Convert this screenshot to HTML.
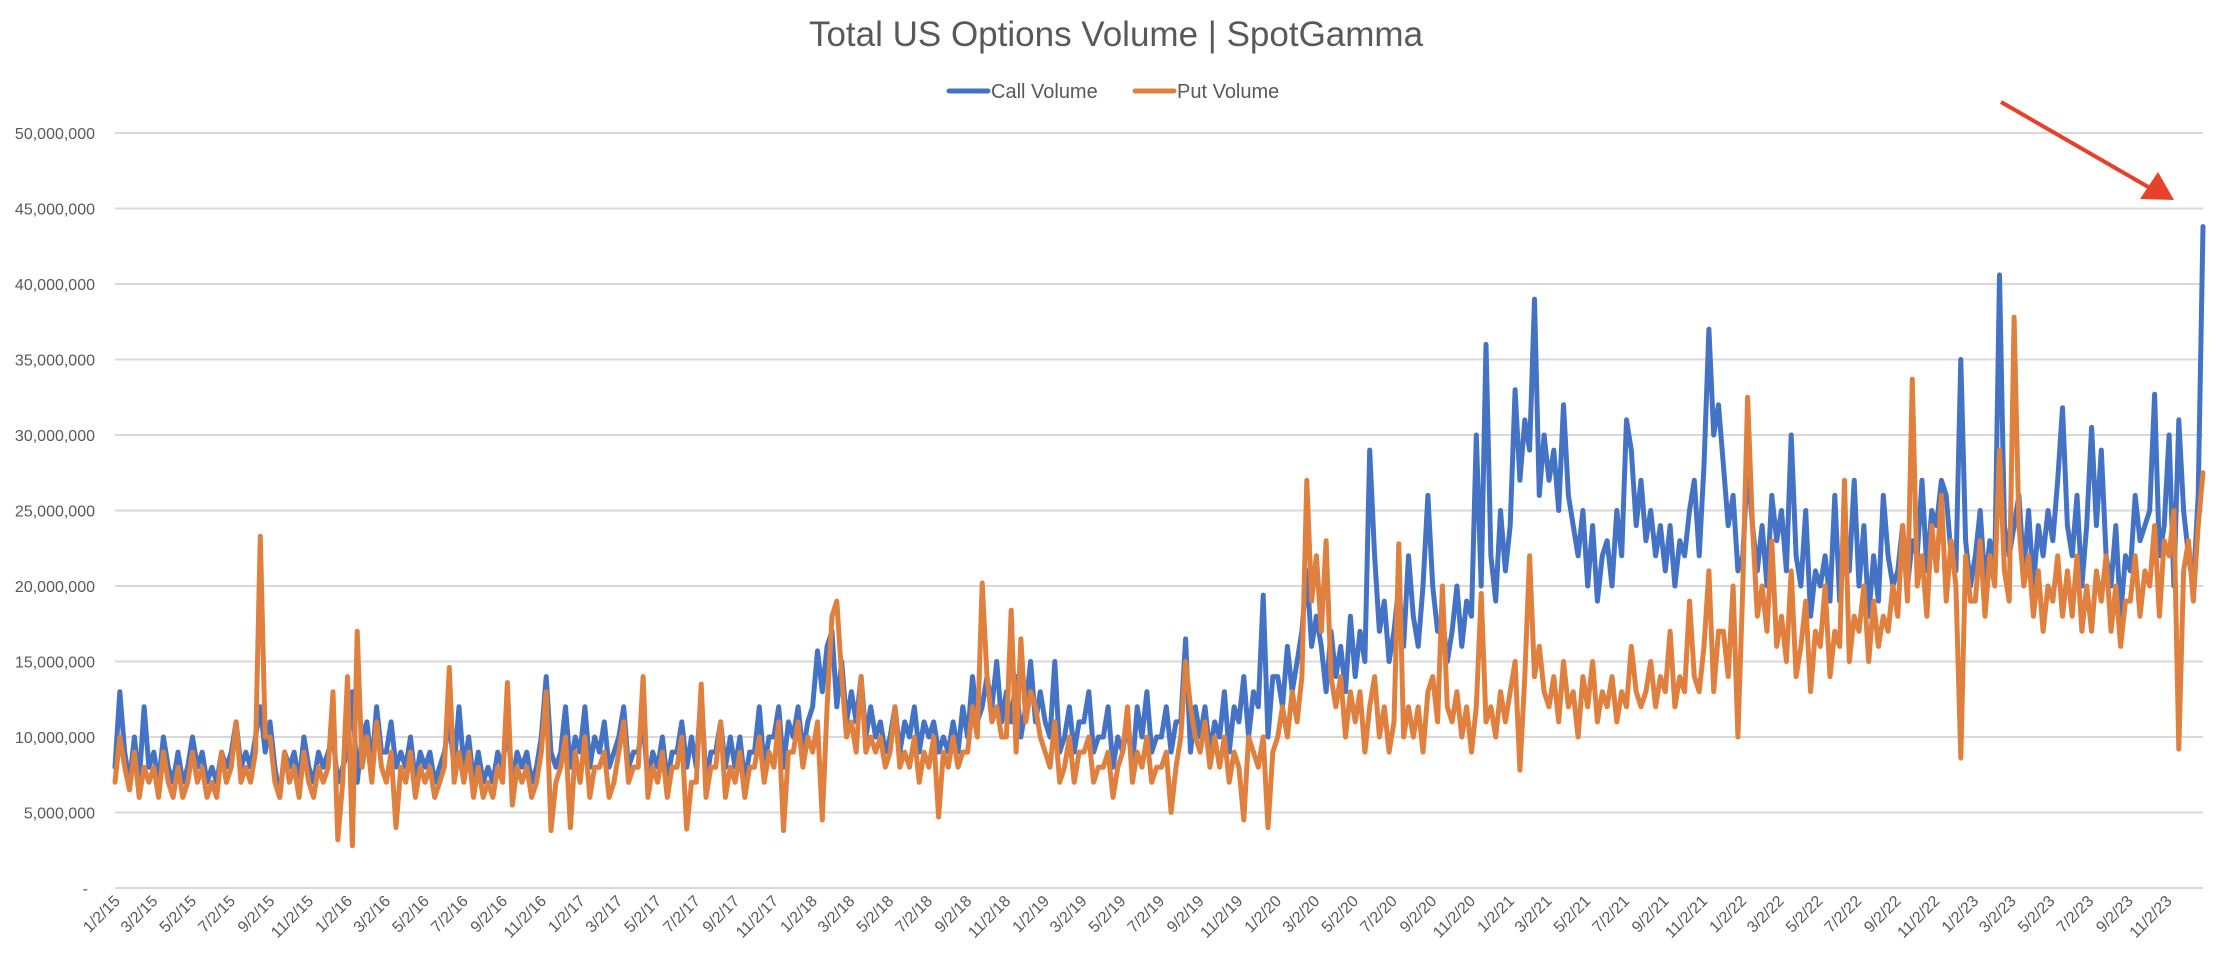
<!DOCTYPE html>
<html><head><meta charset="utf-8">
<style>
html,body{margin:0;padding:0;background:#fff;}
svg{display:block;font-family:"Liberation Sans",sans-serif;}
</style></head>
<body>
<svg id="chart" width="2222" height="962" viewBox="0 0 2222 962" xmlns="http://www.w3.org/2000/svg">
<text x="1116" y="46" text-anchor="middle" font-size="35" fill="#595959">Total US Options Volume | SpotGamma</text>
<g>
<g>
<line x1="949" y1="91" x2="988" y2="91" stroke="#4472C4" stroke-width="5" stroke-linecap="round"/>
<text x="991" y="98" font-size="20" fill="#595959">Call Volume</text></g>
<g>
<line x1="1135" y1="91" x2="1174" y2="91" stroke="#E0803F" stroke-width="5" stroke-linecap="round"/>
<text x="1177" y="98" font-size="20" fill="#595959">Put Volume</text></g>
</g>
<g id="grid"></g>
<g id="yaxis"></g>
<g id="xaxis"></g>
<g id="series"></g>
<g>
<line x1="2001" y1="102" x2="2150" y2="188" stroke="#E8412A" stroke-width="4"/>
<polygon points="2174,200 2140,199 2158,172" fill="#E8412A"/>
</g>
</svg>
<script>
const yTicks = [0,5,10,15,20,25,30,35,40,45,50];
const yTickLabels = ["-","5,000,000","10,000,000","15,000,000","20,000,000","25,000,000","30,000,000","35,000,000","40,000,000","45,000,000","50,000,000"];
const xTickLabels = (function(){const a=[];for(let y=15;y<=23;y++){for(const m of [1,3,5,7,9,11]){a.push(m+"/2/"+y);}}return a;})();
// values in millions, ~4 samples per month, Jan 2015 - Dec 2023
const callVolume = [
8,13,9,7, 10,7,12,8, 9,7,10,8, 7,9,7,8, 10,8,9,7, 8,7,9,8, 9,11,8,9, 8,10,12,9, 11,8,6,9, 8,9,7,10, 8,7,9,8, 9,10,7,8,
9,13,7,10, 11,8,12,9, 9,11,8,9, 8,10,7,9, 8,9,7,8, 9,11,8,12, 8,10,7,9, 7,8,7,9, 8,11,7,9, 8,9,7,8, 10,14,9,8, 9,12,8,10,
9,12,8,10, 9,11,8,9, 10,12,8,9, 9,11,7,9, 8,10,7,9, 9,11,8,10, 8,13,7,9, 9,11,8,10, 8,10,7,9, 9,12,8,10, 10,12,8,11, 10,12,9,11,
12,15.7,13,16, 17,12,15,11, 13,11,14,10, 12,10,11,9, 10,12,9,11, 10,12,9,11, 10,11,9,10, 9,11,9,12, 10,14,11,12, 14,12,15,11, 13,11,14,10, 12,15,11,13,
11,10,15,9, 10,12,9,11, 11,13,9,10, 10,12,8,10, 9,11,8,12, 10,13,9,10, 10,12,9,11, 11,16.5,9,12, 10,12,9,11, 10,13,9,12, 11,14,10,13, 12,19.4,10,14,
14,12,16,13, 15,17,21,16, 18,16,13,17, 14,16,13,18, 14,17,15,29, 22,17,19,15, 17,20,16,22, 18,16,20,26, 20,17,18,15, 17,20,16,19, 18,30,20,36, 22,19,25,21,
24,33,27,31, 29,39,26,30, 27,29,25,32, 26,24,22,25, 20,24,19,22, 23,20,25,22, 31,29,24,27, 23,25,22,24, 21,24,20,23, 22,25,27,22, 28,37,30,32, 28,24,26,21,
22,28,24,21, 24,20,26,23, 25,21,30,22, 20,25,18,21, 20,22,19,26, 19,23,21,27, 20,24,18,22, 19,26,22,20, 21,24,20,23, 22,27,21,25, 24,27,26,22, 21,35,23,20,
22,25,20,23, 21,40.6,24,22, 24,26,21,25, 20,24,22,25, 23,27,31.8,24, 22,26,20,24, 30.5,24,29,22, 20,24,18,22, 21,26,23,24, 25,32.7,22,24, 30,20,31,25, 22,20,26,43.8
];
const putVolume = [
7,10,8,6.5, 9,6,8,7, 8,6,9,7, 6,8,6,7, 9,7,8,6, 7,6,9,7, 8,11,7,8, 7,9,23.3,10, 10,7,6,9, 7,8,6,9, 7,6,8,7, 8,13,3.2,7,
14,2.8,17,8, 10,7,11,8, 7,9,4,8, 7,9,6,8, 7,8,6,7, 8,14.6,7,9, 7,9,6,8, 6,7,6,8, 7,13.6,5.5,8, 7,8,6,7, 9,13,3.8,7, 8,10,4,9,
7,10,6,8, 8,9,6,7, 9,11,7,8, 8,14,6,8, 7,9,6,8, 8,10,3.9,7, 7,13.5,6,8, 8,11,6,8, 7,9,6,8, 8,10,7,9, 8,11,3.8,9, 9,11,8,10,
9,11,4.5,12, 18,19,14,10, 11,9,14,9, 10,9,10,8, 9,12,8,9, 8,10,7,9, 8,10,4.7,9, 8,10,8,9, 9,12,10,20.2, 14,11,12,10, 10,18.4,9,16.5, 11,13,12,10,
9,8,11,7, 8,10,7,9, 9,10,7,8, 8,9,6,8, 9,12,7,9, 8,10,7,8, 8,9,5,8, 10,15,12,10, 9,11,8,10, 8,10,7,9, 8,4.5,10,9, 8,10,4,9,
10,12,10,13, 11,14,27,19, 22,17,23,14, 12,14,10,13, 11,13,9,12, 14,10,12,9, 11,22.8,10,12, 10,12,9,13, 14,11,20,12, 11,13,10,12, 9,12,19.5,11, 12,10,13,11,
13,15,7.8,14, 22,14,16,13, 12,14,11,15, 12,13,10,14, 12,15,11,13, 12,14,11,13, 12,16,13,12, 13,15,12,14, 13,17,12,14, 13,19,14,13, 16,21,13,17, 17,14,20,10,
20,32.5,24,18, 20,17,23,16, 18,15,21,14, 16,19,13,17, 16,20,14,17, 16,27,15,18, 17,20,15,19, 16,18,17,20, 18,24,19,33.7, 20,22,18,24, 21,26,19,23, 20,8.6,22,19,
19,23,18,22, 20,29,21,19, 37.8,24,20,22, 18,21,17,20, 19,22,18,21, 18,22,17,20, 17,21,19,22, 17,20,16,19, 19,22,18,21, 20,24,18,23, 22,25,9.2,21, 23,19,24,27.5
];

const NS="http://www.w3.org/2000/svg";
const X0=115, X1=2203, Y0=888, Y50=133;
const startT=Date.UTC(2015,0,2), endT=Date.UTC(2023,11,29);
function yScale(v){return Y0-(v/50)*(Y0-Y50);}
function xDate(t){return X0+(t-startT)/(endT-startT)*(X1-X0);}
function xIndex(i,n){return X0+i/(n-1)*(X1-X0);}
function mk(tag,attrs,parent){const e=document.createElementNS(NS,tag);for(const k in attrs)e.setAttribute(k,attrs[k]);parent.appendChild(e);return e;}

const grid=document.getElementById('grid'), yax=document.getElementById('yaxis'), xax=document.getElementById('xaxis'), ser=document.getElementById('series');
yTicks.forEach((v,i)=>{
  const y=yScale(v);
  const g=mk('line',{x1:X0,x2:X1,y1:y,y2:y,stroke:'#D9D9D9','stroke-width':2},grid);
  
  
  const t=mk('text',{x:v===0?88:95,y:y+6,'text-anchor':'end','font-size':16,fill:'#595959'},yax);
  
  
  t.textContent=yTickLabels[i];
});
xTickLabels.forEach(lbl=>{
  const p=lbl.split('/');
  const t0=Date.UTC(2000+(+p[2]),(+p[0])-1,+p[1]);
  const x=xDate(t0)+6, y=902;
  const t=mk('text',{x:x,y:y,'text-anchor':'end','font-size':16,fill:'#595959',transform:`rotate(-45 ${x} ${y})`},xax);
  
  
  t.textContent=lbl;
});
function drawSeries(vals,color,name){
  const pts=vals.map((v,i)=>xIndex(i,vals.length).toFixed(1)+','+yScale(v).toFixed(1)).join(' ');
  const pl=mk('polyline',{points:pts,fill:'none',stroke:color,'stroke-width':5,'stroke-linejoin':'round','stroke-linecap':'round'},ser);
  
  
}
drawSeries(callVolume,'#4472C4','call-volume-line');
drawSeries(putVolume,'#E0803F','put-volume-line');
</script>
</body></html>
